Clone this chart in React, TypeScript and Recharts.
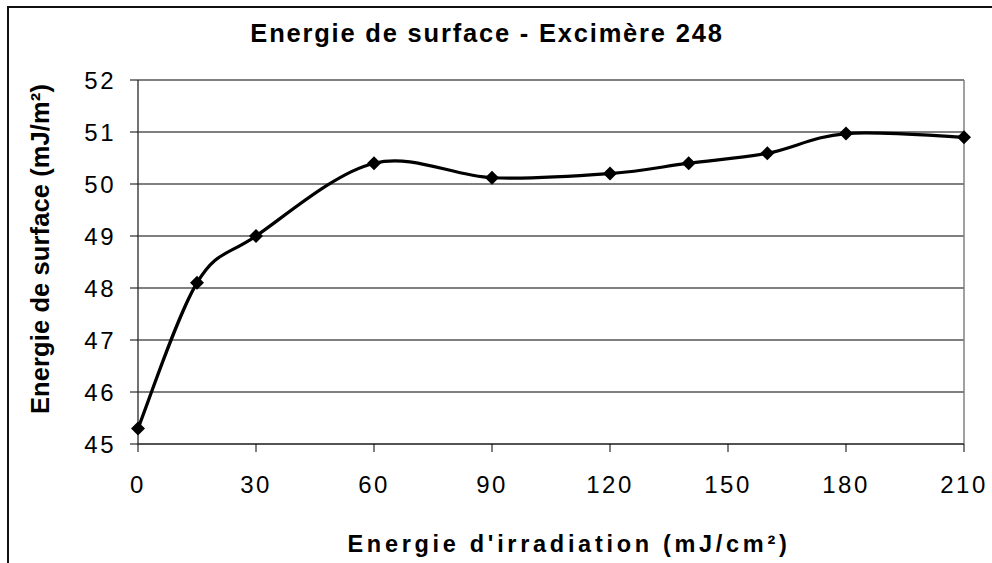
import React from "react";
import {
    LineChart,
    Line,
    XAxis,
    YAxis,
    CartesianGrid,
    ReferenceLine,
    Customized,
} from "recharts";

const irradiation = [0, 15, 30, 60, 90, 120, 140, 160, 180, 210];
const energieSurface = [45.3, 48.1, 49.0, 50.4, 50.12, 50.2, 50.4, 50.59, 50.97, 50.9];
const xTicks = [0, 30, 60, 90, 120, 150, 180, 210];
const yTicks = [45, 46, 47, 48, 49, 50, 51, 52];

const data = irradiation.map((x, i) => ({ x, y: energieSurface[i] }));

const FONT = "'Liberation Sans', Arial, sans-serif";

// lissage façon Excel (Catmull-Rom, tension 1/6)
const excelSmooth = (context: any) => {
    let pts: number[][] = [];
    return {
        areaStart() {},
        areaEnd() {},
        lineStart() {
            pts = [];
        },
        point(x: number, y: number) {
            pts.push([+x, +y]);
        },
        lineEnd() {
            const n = pts.length;
            if (!n) return;
            context.moveTo(pts[0][0], pts[0][1]);
            for (let i = 0; i < n - 1; i++) {
                const p0 = pts[Math.max(i - 1, 0)];
                const p1 = pts[i];
                const p2 = pts[i + 1];
                const p3 = pts[Math.min(i + 2, n - 1)];
                context.bezierCurveTo(
                    p1[0] + (p2[0] - p0[0]) / 6,
                    p1[1] + (p2[1] - p0[1]) / 6,
                    p2[0] - (p3[0] - p1[0]) / 6,
                    p2[1] - (p3[1] - p1[1]) / 6,
                    p2[0],
                    p2[1],
                );
            }
        },
    };
};

const Diamond = (props: any) => {
    const { cx, cy, index } = props;
    if (cx == null || cy == null) return null;
    const r = 7;
    return (
        <path
            key={`d-${index}`}
            d={`M${cx},${cy - r}L${cx + r},${cy}L${cx},${cy + r}L${cx - r},${cy}Z`}
            fill="#000"
        />
    );
};

const Decor = () => (
    <g>
        <line x1={8} y1={7} x2={8} y2={563} stroke="#111" strokeWidth={2} />
        <line x1={7} y1={7} x2={992} y2={7} stroke="#111" strokeWidth={2} />
        <text
            x={487}
            y={42}
            textAnchor="middle"
            fontFamily={FONT}
            fontWeight="bold"
            fontSize={25.5}
            letterSpacing={1.8}
            fill="#000"
        >
            Energie de surface - Excimère 248
        </text>
        <text
            x={49}
            y={249}
            transform="rotate(-90, 49, 249)"
            textAnchor="middle"
            fontFamily={FONT}
            fontWeight="bold"
            fontSize={25.5}
            letterSpacing={0.1}
            fill="#000"
        >
            Energie de surface (mJ/m²)
        </text>
        <text
            x={569}
            y={552}
            textAnchor="middle"
            fontFamily={FONT}
            fontWeight="bold"
            fontSize={23.5}
            letterSpacing={3.7}
            fill="#000"
        >
            Energie d'irradiation (mJ/cm²)
        </text>
    </g>
);

const tickStyle = {
    fontFamily: FONT,
    fontSize: 24,
    fill: "#000",
    letterSpacing: 2.5,
};

export default function App() {
    return (
        <div style={{ width: 992, height: 563, background: "#fff" }}>
            <style>{`body{margin:0;overflow:hidden;background:#fff}`}</style>
            <LineChart
                width={992}
                height={563}
                data={data}
                margin={{ top: 80, right: 28, left: 0, bottom: 0 }}
            >
                <CartesianGrid vertical={false} stroke="#000" strokeWidth={1} />
                <XAxis
                    dataKey="x"
                    type="number"
                    domain={[0, 210]}
                    ticks={xTicks}
                    height={119}
                    tickSize={8}
                    tickMargin={24}
                    stroke="#444"
                    strokeWidth={1.5}
                    tickLine={{ stroke: "#000", strokeWidth: 1 }}
                    tick={tickStyle}
                    interval={0}
                />
                <YAxis
                    type="number"
                    domain={[45, 52]}
                    ticks={yTicks}
                    width={138}
                    tickSize={8}
                    tickMargin={14}
                    stroke="#444"
                    strokeWidth={1.5}
                    tickLine={{ stroke: "#000", strokeWidth: 1 }}
                    tick={tickStyle}
                    interval={0}
                />
                <ReferenceLine y={52} stroke="#808080" strokeWidth={1.5} />
                <ReferenceLine x={210} stroke="#808080" strokeWidth={1.5} />
                <Line
                    dataKey="y"
                    type={excelSmooth as any}
                    stroke="#000"
                    strokeWidth={3.2}
                    dot={Diamond}
                    activeDot={false}
                    isAnimationActive={false}
                />
                <Customized component={Decor} />
            </LineChart>
        </div>
    );
}
